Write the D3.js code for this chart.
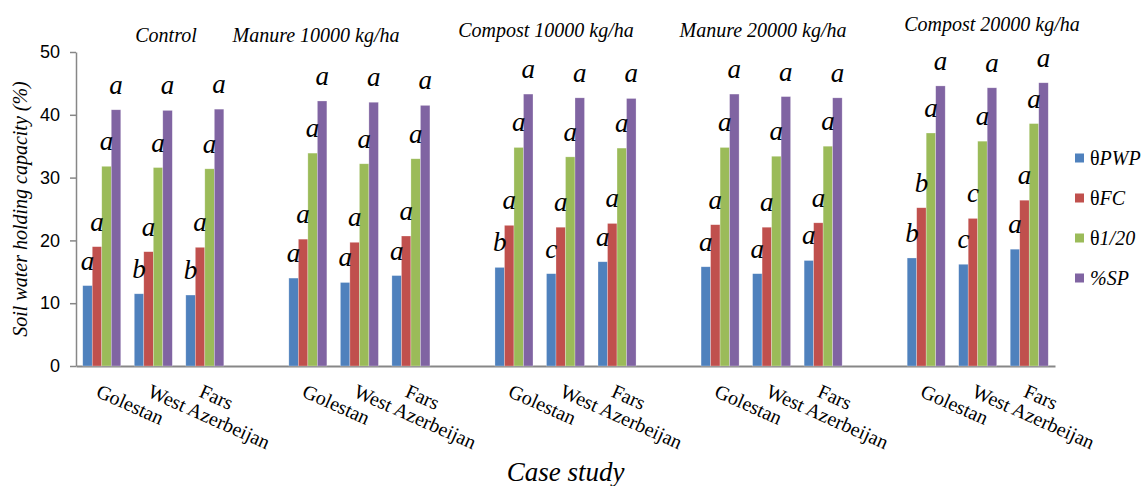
<!DOCTYPE html>
<html>
<head>
<meta charset="utf-8">
<script src="https://cdn.jsdelivr.net/npm/d3@7"></script>
<style>
  body { margin: 0; background: #fff; }
  svg { display: block; }
</style>
</head>
<body>
<svg id="chart" width="1146" height="486"></svg>
<script>
const treatments = ['Control', 'Manure 10000 kg/ha', 'Compost 10000 kg/ha', 'Manure 20000 kg/ha', 'Compost 20000 kg/ha']
const sites = ['Golestan', 'West Azerbeijan', 'Fars']
const series = ['PWP', 'FC', '1/20', '%SP']
const seriesLabels = [['θ', 'PWP'], ['θ', 'FC'], ['θ', '1/20'], ['', '%SP']]
const colors = ['#4F81BD', '#C0504D', '#9BBB59', '#8064A2']
const yTicks = [0, 10, 20, 30, 40, 50]

// values in treatment order, three sites each
const pwp = [12.8, 11.5, 11.3, 14.0, 13.3, 14.4, 15.7, 14.7, 16.6, 15.8, 14.7, 16.8, 17.2, 16.2, 18.6]
const fc = [19.0, 18.2, 18.9, 20.2, 19.7, 20.7, 22.4, 22.1, 22.7, 22.5, 22.1, 22.8, 25.2, 23.5, 26.4]
const t120 = [31.8, 31.6, 31.4, 33.9, 32.2, 33.0, 34.8, 33.3, 34.7, 34.8, 33.4, 35.0, 37.1, 35.8, 38.6]
const sp = [40.8, 40.7, 40.9, 42.2, 42.0, 41.5, 43.3, 42.7, 42.6, 43.3, 42.9, 42.7, 44.6, 44.3, 45.1]

const pwpLetters = ['a', 'b', 'b', 'a', 'a', 'a', 'b', 'c', 'a', 'a', 'a', 'a', 'b', 'c', 'a']
const fcLetters = ['a', 'a', 'a', 'a', 'a', 'a', 'a', 'a', 'a', 'a', 'a', 'a', 'b', 'c', 'a']
const t120Letters = ['a', 'a', 'a', 'a', 'a', 'a', 'a', 'a', 'a', 'a', 'a', 'a', 'a', 'a', 'a']
const spLetters = ['a', 'a', 'a', 'a', 'a', 'a', 'a', 'a', 'a', 'a', 'a', 'a', 'a', 'a', 'a']

const values = [pwp, fc, t120, sp]
const letters = [pwpLetters, fcLetters, t120Letters, spLetters]

// where the treatment titles sit (centre x, baseline y)
const titlePos = [[166, 42], [316, 42], [546, 37], [763, 37], [992, 31]]

const SERIF = '"Times New Roman", Times, Tinos, "Liberation Serif", "DejaVu Serif", "Noto Serif", serif'

const svg = d3.select('#chart')
const plotLeft = 76
const plotRight = 1055
const plotTop = 52
const plotBottom = 366

// one slot per site, one empty slot between treatments
const slots = []
treatments.forEach((t, ti) => {
	sites.forEach(s => slots.push(`${ti}|${s}`))
	if (ti < treatments.length - 1) slots.push(`gap${ti}`)
})

const x = d3.scaleBand().domain(slots).range([plotLeft, plotRight]).padding(0)
const xs = d3.scaleBand().domain(series).range([0, x.bandwidth()]).paddingInner(0).paddingOuter(0.71)
const y = d3.scaleLinear().domain([0, 50]).range([plotBottom, plotTop])

const rows = []
treatments.forEach((t, ti) => {
	sites.forEach((s, si) => {
		const idx = ti * sites.length + si
		series.forEach((k, ki) => {
			rows.push({ slot: `${ti}|${s}`, key: k, ki, value: values[ki][idx], letter: letters[ki][idx] })
		})
	})
})

// axes
const yAxis = svg.append('g')
	.attr('transform', `translate(${plotLeft},0)`)
	.call(d3.axisLeft(y).tickValues(yTicks).tickSize(6).tickSizeOuter(0).tickPadding(10))
yAxis.select('.domain').attr('stroke', '#878787').attr('stroke-width', 1.5)
yAxis.selectAll('.tick line').attr('stroke', '#878787').attr('stroke-width', 1.5)
yAxis.selectAll('.tick text')
	.attr('fill', '#000')
	.style('font-family', '"Liberation Sans", Arial, sans-serif')
	.style('font-size', '18px')

const xAxis = svg.append('g')
	.attr('transform', `translate(0,${plotBottom})`)
	.call(d3.axisBottom(x).tickSize(0).tickSizeOuter(0).tickFormat(''))
xAxis.select('.domain').attr('stroke', '#878787').attr('stroke-width', 2)

// bars
svg.append('g').selectAll('rect')
	.data(rows)
	.join('rect')
		.attr('x', d => x(d.slot) + xs(d.key))
		.attr('y', d => y(d.value))
		.attr('width', xs.bandwidth())
		.attr('height', d => y(0) - y(d.value))
		.attr('fill', d => colors[d.ki])
		.attr('stroke', 'rgba(255,255,255,0.45)')
		.attr('stroke-width', 0.6)

// significance letters
svg.append('g').selectAll('text')
	.data(rows)
	.join('text')
		.attr('x', d => x(d.slot) + xs(d.key) + xs.bandwidth() / 2)
		.attr('y', d => y(d.value) - 16)
		.attr('text-anchor', 'middle')
		.attr('font-family', SERIF)
		.attr('font-style', 'italic')
		.attr('font-size', 27)
		.text(d => d.letter)

// site labels, rotated
const siteRows = slots.filter(s => !s.startsWith('gap'))
svg.append('g').selectAll('text')
	.data(siteRows)
	.join('text')
		.attr('transform', d => `translate(${x(d) + x.bandwidth() / 2 - 1},${plotBottom + 17}) rotate(24)`)
		.attr('dy', '0.72em')
		.attr('font-family', SERIF)
		.attr('font-size', 20)
		.text(d => d.split('|')[1])

// treatment titles
svg.append('g').selectAll('text')
	.data(treatments)
	.join('text')
		.attr('x', (d, i) => titlePos[i][0])
		.attr('y', (d, i) => titlePos[i][1])
		.attr('text-anchor', 'middle')
		.attr('font-family', SERIF)
		.attr('font-style', 'italic')
		.attr('font-size', 20)
		.text(d => d)

// axis titles
svg.append('text')
	.attr('transform', `translate(27,${(plotTop + plotBottom) / 2}) rotate(-90)`)
	.attr('text-anchor', 'middle')
	.attr('font-family', SERIF)
	.attr('font-style', 'italic')
	.attr('font-size', 20)
	.text('Soil water holding capacity (%)')

svg.append('text')
	.attr('x', (plotLeft + plotRight) / 2)
	.attr('y', 481)
	.attr('text-anchor', 'middle')
	.attr('font-family', SERIF)
	.attr('font-style', 'italic')
	.attr('font-size', 27)
	.text('Case study')

// legend
const legend = svg.append('g').selectAll('g')
	.data(series)
	.join('g')
		.attr('transform', (d, i) => `translate(1075,${158 + i * 40})`)
legend.append('rect')
	.attr('x', 0).attr('y', -4.5)
	.attr('width', 9).attr('height', 9)
	.attr('fill', (d, i) => colors[i])
const lt = legend.append('text')
	.attr('x', 15)
	.attr('y', 7)
	.attr('font-family', SERIF)
	.attr('font-size', 20)
lt.append('tspan').text((d, i) => seriesLabels[i][0])
lt.append('tspan').attr('font-style', 'italic').text((d, i) => seriesLabels[i][1])
</script>
</body>
</html>
